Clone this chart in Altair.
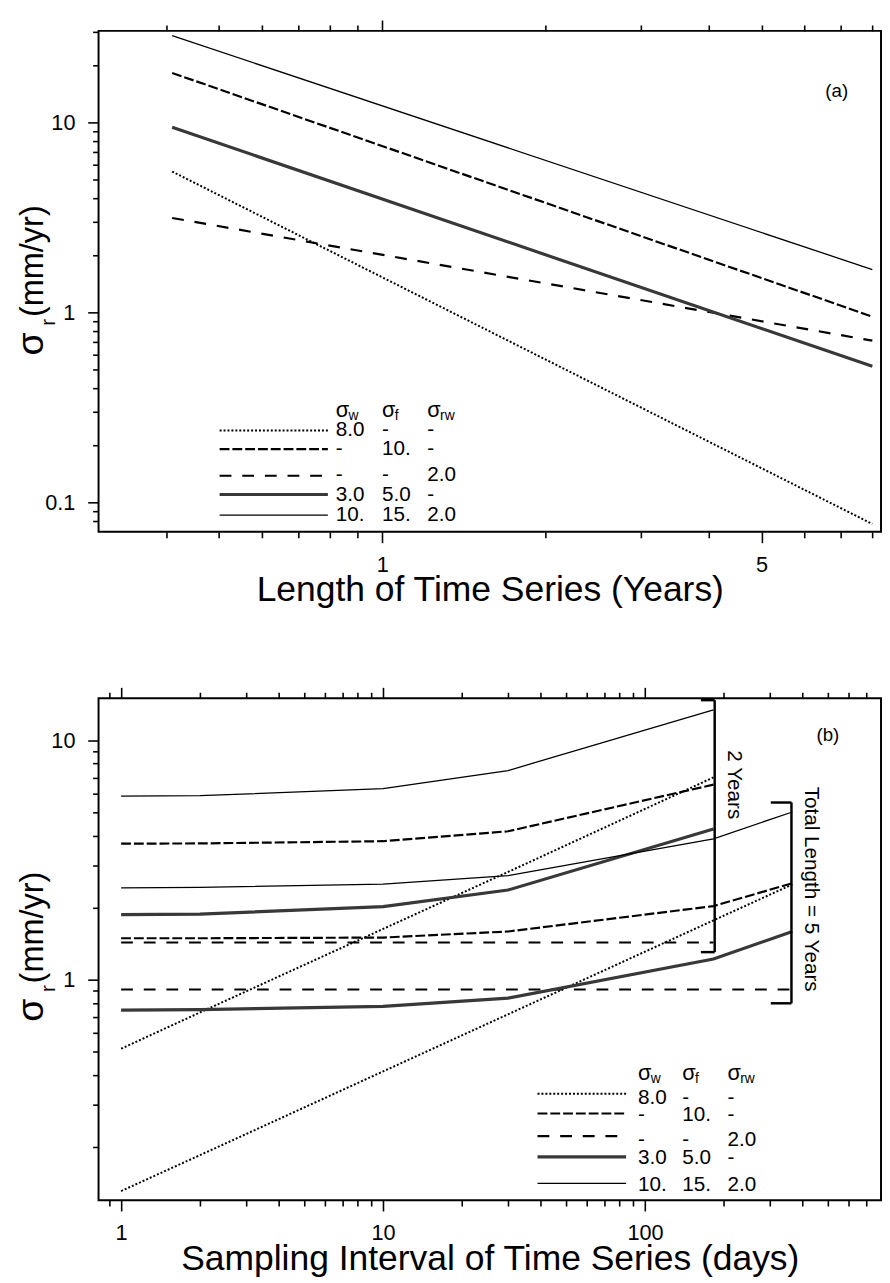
import altair as alt
import pandas as pd

FONT = "Liberation Sans"

# ---------------- Panel (a): sigma_r vs length of time series (years) ----------------
a_years = [0.41, 8.0]
a_white8 = [5.51, 0.077]
a_flicker10 = [18.2, 0.95]
a_rw2 = [3.14, 0.71]
a_w3_f5 = [9.42, 0.52]
a_w10_f15_rw2 = [28.6, 1.68]

# ---------------- Panel (b): sigma_r vs sampling interval (days) ----------------
b_days_2yr = [1, 2, 10, 30, 182.5]
b_days_5yr = [1, 2, 10, 30, 182.5, 365]
b2_white8 = [0.515, 0.73, 1.63, 2.82, 7.0]
b2_flicker10 = [3.70, 3.71, 3.79, 4.17, 6.53]
b2_rw2 = [1.43, 1.43, 1.43, 1.43, 1.43]
b2_w3_f5 = [1.87, 1.88, 2.02, 2.37, 4.26]
b2_w10_f15_rw2 = [5.85, 5.87, 6.28, 7.48, 13.4]
b5_white8 = [0.131, 0.185, 0.414, 0.717, 1.77, 2.50]
b5_flicker10 = [1.49, 1.49, 1.50, 1.59, 2.03, 2.53]
b5_rw2 = [0.91, 0.91, 0.91, 0.91, 0.91, 0.91]
b5_w3_f5 = [0.746, 0.75, 0.774, 0.838, 1.22, 1.59]
b5_w10_f15_rw2 = [2.42, 2.43, 2.51, 2.72, 3.88, 5.02]

# ---------------- legend table ----------------
legend_heads = [("σ", "w"), ("σ", "f"), ("σ", "rw")]
legend_rows = [["8.0", "-", "-"], ["-", "10.", "-"], ["-", "-", "2.0"],
               ["3.0", "5.0", "-"], ["10.", "15.", "2.0"]]

# ---------------- axis ticks ----------------
a_x_ticks = [0.4, 0.5, 0.6, 0.7, 0.8, 0.9, 1, 2, 3, 4, 5, 6, 7, 8]
a_x_labels = [1, 5]
a_y_ticks = [0.08, 0.09, 0.1, 0.2, 0.3, 0.4, 0.5, 0.6, 0.7, 0.8, 0.9,
             1, 2, 3, 4, 5, 6, 7, 8, 9, 10, 20, 30]
a_y_labels = [0.1, 1, 10]
b_x_ticks = [0.9, 1, 2, 3, 4, 5, 6, 7, 8, 9, 10, 20, 30, 40, 50, 60, 70, 80, 90,
             100, 200, 300, 400, 500, 600, 700]
b_x_labels = [1, 10, 100]
b_y_ticks = [0.2, 0.3, 0.4, 0.5, 0.6, 0.7, 0.8, 0.9, 1, 2, 3, 4, 5, 6, 7, 8, 9, 10]
b_y_labels = [1, 10]

W = 795
H_A = 509
H_B = 510

STYLES = {
    "white": dict(color="black", strokeWidth=2.0, strokeDash=[2, 2]),
    "flicker": dict(color="black", strokeWidth=2.2, strokeDash=[10, 3]),
    "rw": dict(color="black", strokeWidth=2.2, strokeDash=[12, 11]),
    "mixed": dict(color="#383838", strokeWidth=3.2),
    "all": dict(color="black", strokeWidth=1.3),
}
ORDER = ["white", "flicker", "rw", "mixed", "all"]


def label_expr(labels):
    s = "''"
    for v in reversed(labels):
        s = f"datum.value == {v} ? '{v}' : " + s
    return s


def major_test(vals):
    return " || ".join(f"datum.value == {v}" for v in vals)


def make_axis(orient, values, labels, majors, show_labels=True, title=None, pad=12):
    kw = dict(
        orient=orient, values=values, domain=False, grid=False,
        tickColor="black", tickWidth=1.6,
        tickSize={"condition": {"test": major_test(majors), "value": 11}, "value": 6},
        labelFont=FONT, labelFontSize=22, labelColor="black",
        labelOverlap=False, labelFlush=False, labelBound=False,
        labels=show_labels, labelPadding=pad,
    )
    if show_labels:
        kw["labelExpr"] = label_expr(labels)
    if title:
        kw.update(title=title, titleFont=FONT, titleFontSize=36, titleFontWeight="normal",
                  titleColor="black", titleBaseline="alphabetic", titleY=70)
    else:
        kw["title"] = None
    return alt.Axis(**kw)


def line_layer(df, key, xs, ys):
    return alt.Chart(df).mark_line(clip=True, **STYLES[key]).encode(
        x=alt.X("x:Q", scale=xs, axis=None),
        y=alt.Y("y:Q", scale=ys, axis=None),
        detail="grp:N",
    )


def text_layer(df, size, angle=0, align="left", baseline="middle"):
    return alt.Chart(df).mark_text(font=FONT, fontSize=size, angle=angle, align=align,
                                   baseline=baseline, color="black").encode(
        x=alt.X("px:Q", scale=None, axis=None),
        y=alt.Y("py:Q", scale=None, axis=None),
        text="t:N",
    )


def rule_px(x1, x2, y1, y2, **style):
    return alt.Chart(pd.DataFrame({"k": [0]})).mark_rule(**style).encode(
        x=alt.value(x1), x2=alt.value(x2), y=alt.value(y1), y2=alt.value(y2))


def y_title(center):
    l1 = text_layer(pd.DataFrame({"t": ["(mm/yr)"], "px": [-56], "py": [center - 22]}),
                    33, angle=270, align="center", baseline="alphabetic")
    l2 = text_layer(pd.DataFrame({"t": ["r"], "px": [-44], "py": [center + 40]}),
                    21, angle=270, align="center", baseline="alphabetic")
    l3 = text_layer(pd.DataFrame({"t": ["σ"], "px": [-56], "py": [center + 62]}),
                    38, angle=270, align="center", baseline="alphabetic")
    return [l1, l2, l3]


def legend(x1, x2, line_ys, cols_x, head_y, text_ys):
    layers = []
    for key, yy in zip(ORDER, line_ys):
        layers.append(rule_px(x1, x2, yy, yy, **STYLES[key]))
    hx = pd.DataFrame({"t": [h[0] for h in legend_heads], "px": cols_x, "py": [head_y] * 3})
    layers.append(text_layer(hx, 22))
    sx = pd.DataFrame({"t": [h[1] for h in legend_heads], "px": [c + 13 for c in cols_x],
                       "py": [head_y + 6] * 3})
    layers.append(text_layer(sx, 14))
    rows = []
    for r, yy in zip(legend_rows, text_ys):
        for c, cx in zip(r, cols_x):
            rows.append({"t": c, "px": cx, "py": yy})
    layers.append(text_layer(pd.DataFrame(rows), 21))
    return layers


# ---------------- Panel (a) ----------------
xs_a = alt.Scale(type="log", domain=[0.3, 8.3], nice=False)
ys_a = alt.Scale(type="log", domain=[0.07, 30.3], nice=False)
a_series = [a_white8, a_flicker10, a_rw2, a_w3_f5, a_w10_f15_rw2]
a_layers = []
for key, vals in zip(ORDER, a_series):
    df = pd.DataFrame({"x": a_years, "y": vals, "grp": ["a"] * len(a_years)})
    a_layers.append(line_layer(df, key, xs_a, ys_a))

dummy_a = pd.DataFrame({"x": [1.0], "y": [1.0]})
axis_a1 = alt.Chart(dummy_a).mark_point(opacity=0).encode(
    x=alt.X("x:Q", scale=xs_a, axis=make_axis("bottom", a_x_ticks, a_x_labels, [1, 5],
                                              title="Length of Time Series (Years)")),
    y=alt.Y("y:Q", scale=ys_a, axis=make_axis("left", a_y_ticks, a_y_labels, a_y_labels, pad=13)),
)
axis_a2 = alt.Chart(dummy_a).mark_point(opacity=0).encode(
    x=alt.X("x:Q", scale=xs_a, axis=make_axis("top", a_x_ticks, [], [1], show_labels=False)),
    y=alt.Y("y:Q", scale=ys_a, axis=None),
)
tag_a = text_layer(pd.DataFrame({"t": ["(a)"], "px": [750], "py": [61]}), 19, align="center")
top = alt.layer(
    axis_a1, axis_a2, *a_layers, tag_a, *y_title(256),
    *legend(123, 233, [406, 425, 452, 471, 492], [241, 288, 334], 385, [406, 425, 451, 472, 492]),
).resolve_axis(x="independent", y="independent").properties(width=W, height=H_A)

# ---------------- Panel (b) ----------------
xs_b = alt.Scale(type="log", domain=[0.82, 796], nice=False)
ys_b = alt.Scale(type="log", domain=[0.12, 15.0], nice=False)
b_series2 = [b2_white8, b2_flicker10, b2_rw2, b2_w3_f5, b2_w10_f15_rw2]
b_series5 = [b5_white8, b5_flicker10, b5_rw2, b5_w3_f5, b5_w10_f15_rw2]
b_layers = []
for key, v2, v5 in zip(ORDER, b_series2, b_series5):
    df = pd.DataFrame({
        "x": b_days_2yr + b_days_5yr,
        "y": v2 + v5,
        "grp": ["2 yr"] * len(b_days_2yr) + ["5 yr"] * len(b_days_5yr),
    })
    b_layers.append(line_layer(df, key, xs_b, ys_b))

dummy_b = pd.DataFrame({"x": [10.0], "y": [1.0]})
axis_b1 = alt.Chart(dummy_b).mark_point(opacity=0).encode(
    x=alt.X("x:Q", scale=xs_b, axis=make_axis("bottom", b_x_ticks, b_x_labels, b_x_labels,
                                              title="Sampling Interval of Time Series (days)")),
    y=alt.Y("y:Q", scale=ys_b, axis=make_axis("left", b_y_ticks, b_y_labels, b_y_labels, pad=13)),
)
axis_b2 = alt.Chart(dummy_b).mark_point(opacity=0).encode(
    x=alt.X("x:Q", scale=xs_b, axis=make_axis("top", b_x_ticks, [], b_x_labels, show_labels=False)),
    y=alt.Y("y:Q", scale=ys_b, axis=None),
)
tag_b = text_layer(pd.DataFrame({"t": ["(b)"], "px": [741], "py": [38]}), 19, align="center")
BR = dict(color="black", strokeWidth=2.5)
brackets = [
    rule_px(612, 626, 2, 2, **BR), rule_px(626, 626, 2, 258, **BR), rule_px(612, 626, 258, 258, **BR),
    rule_px(683, 704, 106, 106, **BR), rule_px(704, 704, 106, 310, **BR), rule_px(683, 704, 310, 310, **BR),
]
bracket_text = text_layer(pd.DataFrame({"t": ["2 Years", "Total Length = 5 Years"],
                                        "px": [646, 724], "py": [88, 194]}),
                          21, angle=90, align="center")
bottom = alt.layer(
    axis_b1, axis_b2, *b_layers, tag_b, *brackets, bracket_text, *y_title(255),
    *legend(446, 536, [402, 422, 445, 466, 493], [548, 593, 639], 381, [406, 424, 449, 467, 495]),
).resolve_axis(x="independent", y="independent").properties(width=W, height=H_B)

chart = alt.vconcat(top, bottom, spacing=169, bounds="flush").configure_view(
    stroke="black", strokeWidth=2
).properties(padding={"left": 5, "top": 0, "right": 0, "bottom": 0}, background="white")

chart.save("out.html", embed_options={"renderer": "svg", "actions": False})
